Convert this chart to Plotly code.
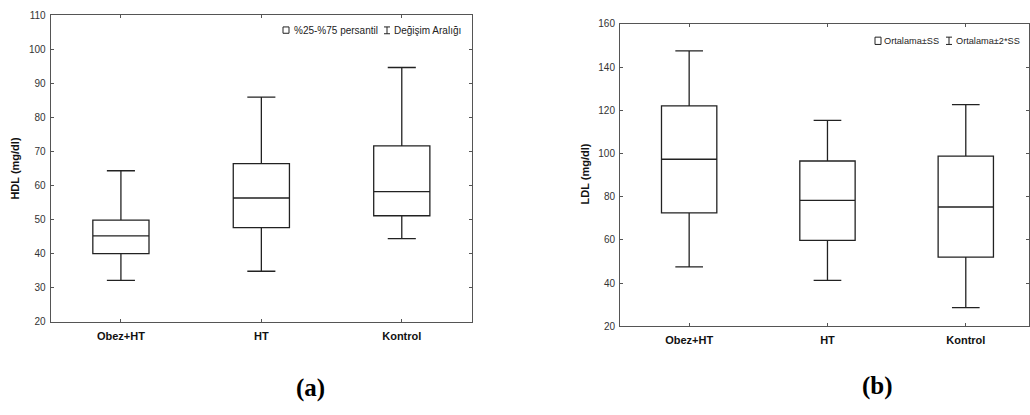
import plotly.graph_objects as go

categories = ["Obez+HT", "HT", "Kontrol"]

# (a) HDL
hdl_low = [32.1, 34.8, 44.4]
hdl_q1 = [40.0, 47.6, 51.1]
hdl_med = [45.2, 56.3, 58.2]
hdl_q3 = [49.8, 66.4, 71.6]
hdl_high = [64.3, 85.9, 94.6]

# (b) LDL
ldl_low = [47.5, 41.2, 28.6]
ldl_q1 = [72.5, 59.8, 52.0]
ldl_med = [97.3, 78.3, 75.2]
ldl_q3 = [122.0, 96.5, 98.8]
ldl_high = [147.5, 115.3, 122.6]

hdl_ticks = [20, 30, 40, 50, 60, 70, 80, 90, 100, 110]
ldl_ticks = [20, 40, 60, 80, 100, 120, 140, 160]

FRAME = "#555555"
BOXLINE = "#222222"

fig = go.Figure()
xs = list(range(len(categories)))

fig.add_trace(go.Box(
    x=xs, q1=hdl_q1, median=hdl_med, q3=hdl_q3,
    lowerfence=hdl_low, upperfence=hdl_high,
    width=0.4, whiskerwidth=0.5, boxpoints=False,
    fillcolor="white", line=dict(color=BOXLINE, width=1.3),
    xaxis="x", yaxis="y", hoverinfo="skip", showlegend=False,
))
fig.add_trace(go.Box(
    x=xs, q1=ldl_q1, median=ldl_med, q3=ldl_q3,
    lowerfence=ldl_low, upperfence=ldl_high,
    width=0.4, whiskerwidth=0.5, boxpoints=False,
    fillcolor="white", line=dict(color=BOXLINE, width=1.3),
    xaxis="x2", yaxis="y2", hoverinfo="skip", showlegend=False,
))

W, H = 1030, 415
def px_x(v): return v / W
def px_y(v): return 1 - v / H

common_x = dict(
    tickmode="array", tickvals=xs,
    ticktext=["<b>%s</b>" % c for c in categories],
    showline=True, mirror="ticks", linecolor=FRAME, linewidth=1,
    ticks="inside", ticklen=3, tickcolor=FRAME,
    showgrid=False, zeroline=False,
    tickfont=dict(family="Liberation Sans", size=11, color="#111111"),
    ticklabelstandoff=4, fixedrange=True,
)
common_y = dict(
    tickmode="array",
    showline=True, mirror="ticks", linecolor=FRAME, linewidth=1,
    ticks="inside", ticklen=3, tickcolor=FRAME,
    showgrid=False, zeroline=False,
    tickfont=dict(family="Liberation Sans", size=10, color="#333333"),
    ticklabelstandoff=2, fixedrange=True,
)

fig.update_layout(
    width=W, height=H,
    margin=dict(l=0, r=0, t=0, b=0),
    paper_bgcolor="white", plot_bgcolor="white",
    showlegend=False,
    xaxis=dict(common_x, domain=[px_x(50.7), px_x(472)], range=[-0.5, 2.5], anchor="y"),
    yaxis=dict(common_y, domain=[px_y(324.3), px_y(9.3)], range=[20, 110],
               tickvals=hdl_ticks, anchor="x"),
    xaxis2=dict(common_x, domain=[px_x(620), px_x(1029)], range=[-0.5, 2.457], anchor="y2"),
    yaxis2=dict(common_y, domain=[px_y(329), px_y(18.3)], range=[20, 160],
                tickvals=ldl_ticks, anchor="x2"),
)

ann = []
def add_text(x, y, text, size, family="Liberation Sans", angle=0, color="#111111", xanchor="center"):
    ann.append(dict(x=px_x(x), y=px_y(y), xref="paper", yref="paper", text=text,
                    showarrow=False, textangle=angle, xanchor=xanchor, yanchor="middle",
                    font=dict(family=family, size=size, color=color)))

shapes = []
def legend_box(x0, x1, y0, y1):
    shapes.append(dict(type="rect", xref="paper", yref="paper",
                       x0=px_x(x0), x1=px_x(x1), y0=px_y(y1), y1=px_y(y0),
                       line=dict(color="#222222", width=1), fillcolor="white"))
def legend_ibeam(x0, x1, y0, y1):
    xm = (x0 + x1) / 2
    for seg in [(xm, y0, xm, y1), (x0, y0, x1, y0), (x0, y1, x1, y1)]:
        shapes.append(dict(type="line", xref="paper", yref="paper",
                           x0=px_x(seg[0]), y0=px_y(seg[1]), x1=px_x(seg[2]), y1=px_y(seg[3]),
                           line=dict(color="#222222", width=1)))

# axis titles
add_text(15, 167, "<b>HDL (mg/dl)</b>", 11, angle=-90)
add_text(585, 173, "<b>LDL (mg/dl)</b>", 11, angle=-90)

# legends
legend_box(283, 289, 21.5, 28)
add_text(292, 25.5, "%25-%75 persantil", 10, xanchor="left", color="#222222")
legend_ibeam(384, 390, 21.5, 28.5)
add_text(391.5, 25.5, "Değişim Aralığı", 10, xanchor="left", color="#222222")

legend_box(875, 881, 32, 39.5)
add_text(882, 35.5, "Ortalama±SS", 9.2, xanchor="left", color="#222222")
legend_ibeam(946, 952, 32, 39.5)
add_text(953.5, 35.5, "Ortalama±2*SS", 9.2, xanchor="left", color="#222222")

# panel labels
add_text(310, 392, "<b>(a)</b>", 25, family="Liberation Serif", color="#000000")
add_text(877, 390, "<b>(b)</b>", 25, family="Liberation Serif", color="#000000")

fig.update_layout(annotations=ann, shapes=shapes)
fig.write_html("out.html")
